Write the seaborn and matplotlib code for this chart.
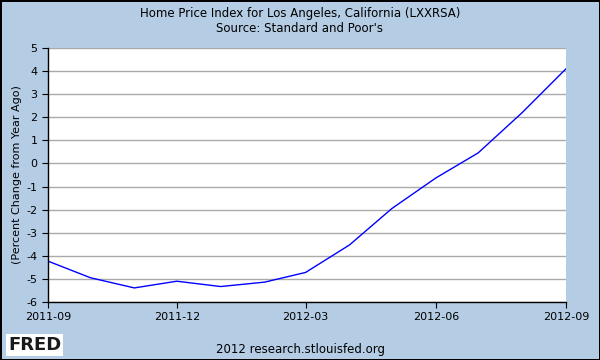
import matplotlib
matplotlib.use("Agg")
import matplotlib.pyplot as plt
import matplotlib.dates as mdates
import seaborn as sns
import pandas as pd

# monthly values
months = ["2011-09", "2011-10", "2011-11", "2011-12", "2012-01", "2012-02", "2012-03",
          "2012-04", "2012-05", "2012-06", "2012-07", "2012-08", "2012-09"]
pct_change = [-4.23, -4.95, -5.39, -5.1, -5.33, -5.14, -4.72,
              -3.53, -1.95, -0.63, 0.46, 2.2, 4.1]
tick_months = ["2011-09", "2011-12", "2012-03", "2012-06", "2012-09"]
y_ticks = list(range(-6, 6))

df = pd.DataFrame({"date": pd.to_datetime(months), "value": pct_change})

sns.set_style("white")
bg = "#B4CDE5"
plt.rcParams['font.family'] = ['DejaVu Sans']
plt.rcParams['axes.unicode_minus'] = False
plt.rcParams['text.color'] = "black"
plt.rcParams['xtick.color'] = "black"
plt.rcParams['ytick.color'] = "black"
plt.rcParams['axes.labelcolor'] = "black"

fig = plt.figure(figsize=(6, 3.6), dpi=100, facecolor=bg, edgecolor="black", linewidth=2)
ax = fig.add_axes([48/600, 1 - 302/360, (566-48)/600, (302-48)/360])
ax.set_facecolor("white")

sns.lineplot(data=df, x="date", y="value", ax=ax, color="#0000FF", linewidth=1.0)

ax.set_xlim(pd.Timestamp(months[0]), pd.Timestamp(months[-1]))
ax.set_ylim(-6, 5)
ax.set_yticks(y_ticks)
ax.set_xticks(pd.to_datetime(tick_months))
ax.xaxis.set_major_formatter(mdates.DateFormatter("%Y-%m"))
ax.yaxis.grid(True, color="#AAAAAA", linewidth=1)
ax.xaxis.grid(False)
ax.tick_params(axis="both", labelsize=8, length=4, direction="out", color="black",
               bottom=True, left=True)
for s in ["top", "right"]:
    ax.spines[s].set_visible(False)
for s in ["left", "bottom"]:
    ax.spines[s].set_color("black")
    ax.spines[s].set_linewidth(1)
ax.set_xlabel("")
ax.set_ylabel("(Percent Change from Year Ago)", fontsize=8)
ax.yaxis.set_label_coords(-0.05, 0.5)

fig.text(0.5, 1 - 13/360, "Home Price Index for Los Angeles, California (LXXRSA)",
         ha="center", va="center", fontsize=8.5)
fig.text(0.5, 1 - 28/360, "Source: Standard and Poor's",
         ha="center", va="center", fontsize=8.5)
fig.text(0.5, 1 - 349/360, "2012 research.stlouisfed.org",
         ha="center", va="center", fontsize=8.5)
fig.text(8/600, 1 - 345/360, "FRED", ha="left", va="center", fontsize=13,
         fontweight="bold", color="#1a1a1a",
         bbox=dict(facecolor="white", edgecolor="none", pad=1.5))

fig.savefig("out.png", dpi=100, facecolor=bg, edgecolor="black")
